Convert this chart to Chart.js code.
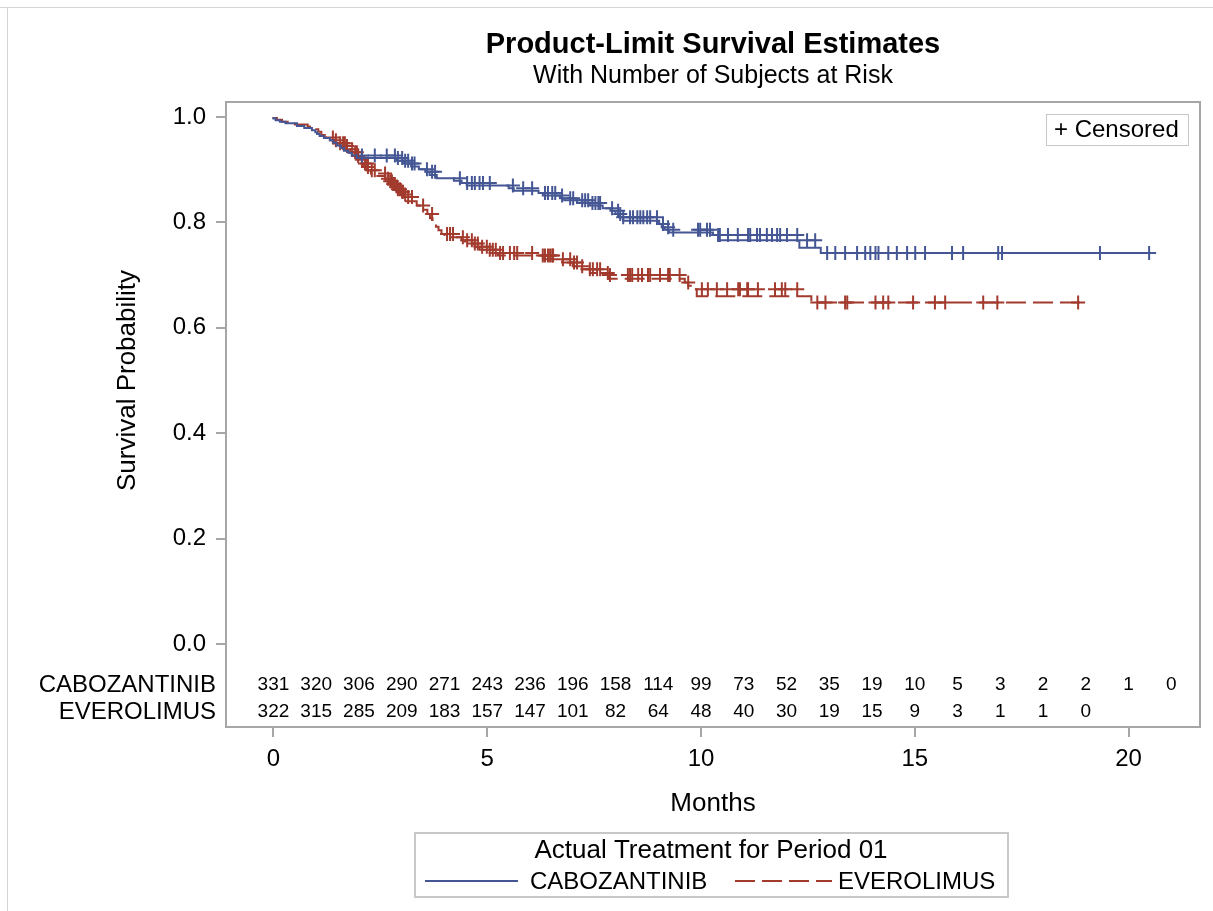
<!DOCTYPE html>
<html>
<head>
<meta charset="utf-8">
<title>Product-Limit Survival Estimates</title>
<script src="https://cdn.jsdelivr.net/npm/chart.js@4.4.1/dist/chart.umd.min.js"></script>
<style>
  html, body { margin: 0; padding: 0; background: #fff; }
  #wrap { width: 1213px; height: 911px; }
</style>
</head>
<body>
<div id="wrap"><canvas id="kmChart" width="1213" height="911"></canvas></div>
<script>
// KM step points: [months, survival after the event]
const caboSteps = [
  [0, 1.000], [0.05, 0.997], [0.15, 0.994], [0.28, 0.991], [0.55, 0.988], [0.72, 0.983],
  [0.90, 0.979], [0.98, 0.975], [1.02, 0.971], [1.08, 0.968], [1.18, 0.964], [1.32, 0.960],
  [1.40, 0.956], [1.48, 0.951], [1.58, 0.946], [1.65, 0.941], [1.75, 0.936], [1.83, 0.932],
  [1.95, 0.927], [2.88, 0.922], [3.05, 0.917], [3.22, 0.912], [3.40, 0.906], [3.55, 0.901],
  [3.65, 0.896], [3.82, 0.890], [4.22, 0.884], [4.40, 0.879], [4.52, 0.875], [5.50, 0.870],
  [5.62, 0.865], [6.20, 0.860], [6.30, 0.856], [6.70, 0.851], [6.80, 0.846], [7.10, 0.842],
  [7.40, 0.837], [7.70, 0.832], [7.88, 0.827], [8.00, 0.822], [8.10, 0.816], [8.18, 0.810],
  [9.02, 0.803], [9.08, 0.797], [9.15, 0.791], [9.25, 0.786], [10.28, 0.781], [10.40, 0.776],
  [12.30, 0.766], [12.80, 0.752], [12.90, 0.742]
];
const everoSteps = [
  [0, 1.000], [0.08, 0.998], [0.20, 0.995], [0.50, 0.991], [0.80, 0.986], [0.88, 0.982],
  [1.05, 0.977], [1.12, 0.972], [1.20, 0.966], [1.30, 0.961], [1.42, 0.956], [1.55, 0.950],
  [1.68, 0.945], [1.80, 0.939], [1.90, 0.933], [1.98, 0.926], [2.05, 0.919], [2.12, 0.912],
  [2.20, 0.905], [2.28, 0.899], [2.40, 0.893], [2.62, 0.888], [2.68, 0.883], [2.73, 0.878],
  [2.79, 0.873], [2.85, 0.868], [2.91, 0.863], [2.97, 0.858], [3.04, 0.853], [3.10, 0.848],
  [3.35, 0.840], [3.42, 0.832], [3.60, 0.824], [3.66, 0.816], [3.72, 0.808], [3.80, 0.800],
  [3.86, 0.792], [3.93, 0.785], [4.00, 0.778], [4.40, 0.772], [4.48, 0.766], [4.70, 0.760],
  [4.82, 0.754], [5.00, 0.748], [5.25, 0.742], [6.30, 0.737], [6.75, 0.730], [7.00, 0.724],
  [7.20, 0.717], [7.40, 0.711], [7.70, 0.704], [7.85, 0.700], [9.62, 0.693], [9.70, 0.686],
  [9.80, 0.680], [9.90, 0.673], [12.58, 0.660], [12.62, 0.648]
];
const caboLastTime = 20.6;
const everoLastTime = 18.9;

// censoring times (months)
const caboCensored = [
  2.07, 2.37, 2.65, 2.84, 2.91, 3.01, 3.08, 3.15, 3.24, 3.30, 3.59, 3.71, 3.78, 4.36, 4.53,
  4.64, 4.71, 4.82, 4.90, 5.06, 5.60, 5.84, 6.05, 6.35, 6.42, 6.52, 6.59, 6.75, 6.94, 7.01,
  7.22, 7.29, 7.36, 7.46, 7.53, 7.60, 7.64, 7.92, 8.06, 8.11, 8.18, 8.34, 8.41, 8.51, 8.58,
  8.65, 8.74, 8.81, 8.97, 9.11, 9.23, 9.35, 9.93, 9.98, 10.14, 10.21, 10.40, 10.44, 10.63,
  10.86, 11.10, 11.15, 11.31, 11.38, 11.54, 11.66, 11.78, 11.85, 12.01, 12.25, 12.48, 12.67,
  12.95, 13.14, 13.37, 13.65, 13.84, 13.96, 14.08, 14.15, 14.38, 14.58, 14.82, 15.01, 15.24,
  15.87, 16.13, 16.95, 17.04, 19.33, 20.48
];
const everoCensored = [
  1.39, 1.46, 1.56, 1.63, 1.67, 1.72, 1.84, 1.91, 1.95, 1.98, 2.07, 2.14, 2.19, 2.21, 2.30,
  2.37, 2.61, 2.68, 2.73, 2.77, 2.80, 2.84, 2.89, 2.91, 2.96, 3.01, 3.03, 3.08, 3.15, 3.24,
  3.50, 3.71, 4.06, 4.13, 4.20, 4.43, 4.53, 4.64, 4.71, 4.78, 4.88, 4.99, 5.06, 5.13, 5.20,
  5.30, 5.37, 5.53, 5.63, 5.70, 6.05, 6.30, 6.35, 6.42, 6.47, 6.52, 6.54, 6.77, 6.94, 7.03,
  7.10, 7.22, 7.40, 7.47, 7.57, 7.64, 7.82, 7.87, 8.29, 8.34, 8.39, 8.53, 8.62, 8.76, 8.81,
  9.04, 9.23, 9.27, 9.50, 9.70, 10.02, 10.16, 10.37, 10.61, 10.87, 10.91, 11.08, 11.10, 11.33,
  11.73, 11.89, 11.97, 12.25, 12.72, 12.91, 13.37, 13.42, 14.08, 14.26, 14.38, 14.96, 15.47,
  15.71, 16.60, 16.93, 18.82
];

// number at risk, one value per month
const caboAtRisk = [331, 320, 306, 290, 271, 243, 236, 196, 158, 114, 99, 73, 52, 35, 19, 10, 5, 3, 2, 2, 1, 0];
const everoAtRisk = [322, 315, 285, 209, 183, 157, 147, 101, 82, 64, 48, 40, 30, 19, 15, 9, 3, 1, 1, 0];
const groupNames = ['CABOZANTINIB', 'EVEROLIMUS'];

const xTicks = [0, 5, 10, 15, 20];
const yTicks = [0, 0.2, 0.4, 0.6, 0.8, 1.0];

const BLUE = '#445694';
const RED = '#A23A2E';
const FRAME = '#a6a6a6';
const FONT = '"Liberation Sans", Arial, sans-serif';

function curvePoints(steps, lastTime) {
  const pts = steps.map(([t, s]) => ({ x: t, y: s }));
  pts.push({ x: lastTime, y: steps[steps.length - 1][1] });
  return pts;
}

function survivalAt(steps, t) {
  let s = steps[0][1];
  for (const [ts, v] of steps) {
    if (ts <= t) s = v; else break;
  }
  return s;
}

function censorPoints(steps, times) {
  return times.map(t => ({ x: t, y: survivalAt(steps, t) }));
}

// titles, frame, at-risk table and legends
const decorations = {
  id: 'decorations',
  beforeDraw(chart) {
    const ctx = chart.ctx;
    ctx.save();
    ctx.fillStyle = '#fff';
    ctx.fillRect(0, 0, chart.width, chart.height);
    ctx.strokeStyle = '#d4d4d4';
    ctx.lineWidth = 1;
    ctx.beginPath();
    ctx.moveTo(0, 7.5); ctx.lineTo(chart.width, 7.5);
    ctx.moveTo(7.5, 7.5); ctx.lineTo(7.5, chart.height);
    ctx.stroke();
    ctx.restore();
  },
  afterDraw(chart) {
    const ctx = chart.ctx;
    const area = chart.chartArea;
    const xs = chart.scales.x;
    const ys = chart.scales.y;
    const midX = (area.left + area.right) / 2;
    ctx.save();

    // plot frame
    ctx.strokeStyle = FRAME;
    ctx.lineWidth = 2;
    ctx.strokeRect(area.left, area.top, area.right - area.left, area.bottom - area.top);

    ctx.fillStyle = '#000';
    ctx.textAlign = 'center';
    ctx.textBaseline = 'middle';
    ctx.font = 'bold 29px ' + FONT;
    ctx.fillText('Product-Limit Survival Estimates', midX, 45);
    ctx.font = '25px ' + FONT;
    ctx.fillText('With Number of Subjects at Risk', midX, 76);

    // axis titles
    ctx.font = '26px ' + FONT;
    ctx.fillText('Months', midX, 804);
    ctx.save();
    ctx.translate(128, (ys.getPixelForValue(0) + ys.getPixelForValue(1)) / 2);
    ctx.rotate(-Math.PI / 2);
    ctx.fillText('Survival Probability', 0, 0);
    ctx.restore();

    // number at risk rows
    const rows = [caboAtRisk, everoAtRisk];
    const rowY = [685, 712];
    rows.forEach((vals, r) => {
      ctx.textAlign = 'right';
      ctx.font = '24px ' + FONT;
      ctx.fillText(groupNames[r], 216, rowY[r]);
      ctx.textAlign = 'center';
      ctx.font = '19px ' + FONT;
      vals.forEach((v, i) => ctx.fillText(String(v), xs.getPixelForValue(i), rowY[r]));
    });

    // censored key
    ctx.strokeStyle = '#c8c8c8';
    ctx.lineWidth = 1;
    ctx.strokeRect(1046.5, 114.5, 142, 31);
    ctx.textAlign = 'left';
    ctx.font = '24px ' + FONT;
    ctx.fillText('+ Censored', 1054, 130);

    // group legend
    ctx.strokeStyle = '#c8c8c8';
    ctx.lineWidth = 2;
    ctx.strokeRect(415, 833, 593, 64);
    ctx.textAlign = 'center';
    ctx.font = '26px ' + FONT;
    ctx.fillText('Actual Treatment for Period 01', 711, 851);
    ctx.lineWidth = 2;
    ctx.strokeStyle = BLUE;
    ctx.beginPath(); ctx.moveTo(425, 881); ctx.lineTo(518, 881); ctx.stroke();
    ctx.strokeStyle = RED;
    ctx.setLineDash([20, 7]);
    ctx.beginPath(); ctx.moveTo(735, 881); ctx.lineTo(832, 881); ctx.stroke();
    ctx.setLineDash([]);
    ctx.textAlign = 'left';
    ctx.font = '24px ' + FONT;
    ctx.fillText(groupNames[0], 530, 882);
    ctx.fillText(groupNames[1], 838, 882);
    ctx.restore();
  }
};

const ctx = document.getElementById('kmChart').getContext('2d');
new Chart(ctx, {
  type: 'scatter',
  data: {
    datasets: [
      {
        label: groupNames[0],
        data: curvePoints(caboSteps, caboLastTime),
        showLine: true,
        stepped: 'after',
        borderColor: BLUE,
        borderWidth: 2,
        pointRadius: 0
      },
      {
        label: groupNames[1],
        data: curvePoints(everoSteps, everoLastTime),
        showLine: true,
        stepped: 'after',
        borderColor: RED,
        borderWidth: 2,
        borderDash: [20, 7],
        pointRadius: 0
      },
      {
        label: 'Censored ' + groupNames[0],
        data: censorPoints(caboSteps, caboCensored),
        pointStyle: 'cross',
        pointRadius: 7,
        pointBorderWidth: 2,
        borderColor: BLUE,
        backgroundColor: BLUE
      },
      {
        label: 'Censored ' + groupNames[1],
        data: censorPoints(everoSteps, everoCensored),
        pointStyle: 'cross',
        pointRadius: 7,
        pointBorderWidth: 2,
        borderColor: RED,
        backgroundColor: RED
      }
    ]
  },
  options: {
    responsive: false,
    animation: false,
    events: [],
    layout: { padding: { top: 102, right: 13, left: 0, bottom: 0 } },
    plugins: {
      legend: { display: false },
      title: { display: false },
      tooltip: { enabled: false }
    },
    scales: {
      x: {
        type: 'linear',
        min: -1.11,
        max: 21.67,
        afterBuildTicks: scale => { scale.ticks = xTicks.map(v => ({ value: v })); },
        afterFit: scale => { scale.height = 184; },
        grid: { drawOnChartArea: false, drawTicks: true, tickLength: 10, color: FRAME, lineWidth: 2 },
        border: { display: false },
        ticks: { color: '#000', font: { family: FONT, size: 24 }, padding: 8, maxRotation: 0 }
      },
      y: {
        type: 'linear',
        min: -0.1575,
        max: 1.0285,
        afterBuildTicks: scale => { scale.ticks = yTicks.map(v => ({ value: v })); },
        afterFit: scale => { scale.width = 226; },
        grid: { drawOnChartArea: false, drawTicks: true, tickLength: 10, color: FRAME, lineWidth: 2 },
        border: { display: false },
        ticks: {
          color: '#000',
          font: { family: FONT, size: 24 },
          padding: 10,
          callback: v => v.toFixed(1)
        }
      }
    }
  },
  plugins: [decorations]
});
</script>
</body>
</html>
